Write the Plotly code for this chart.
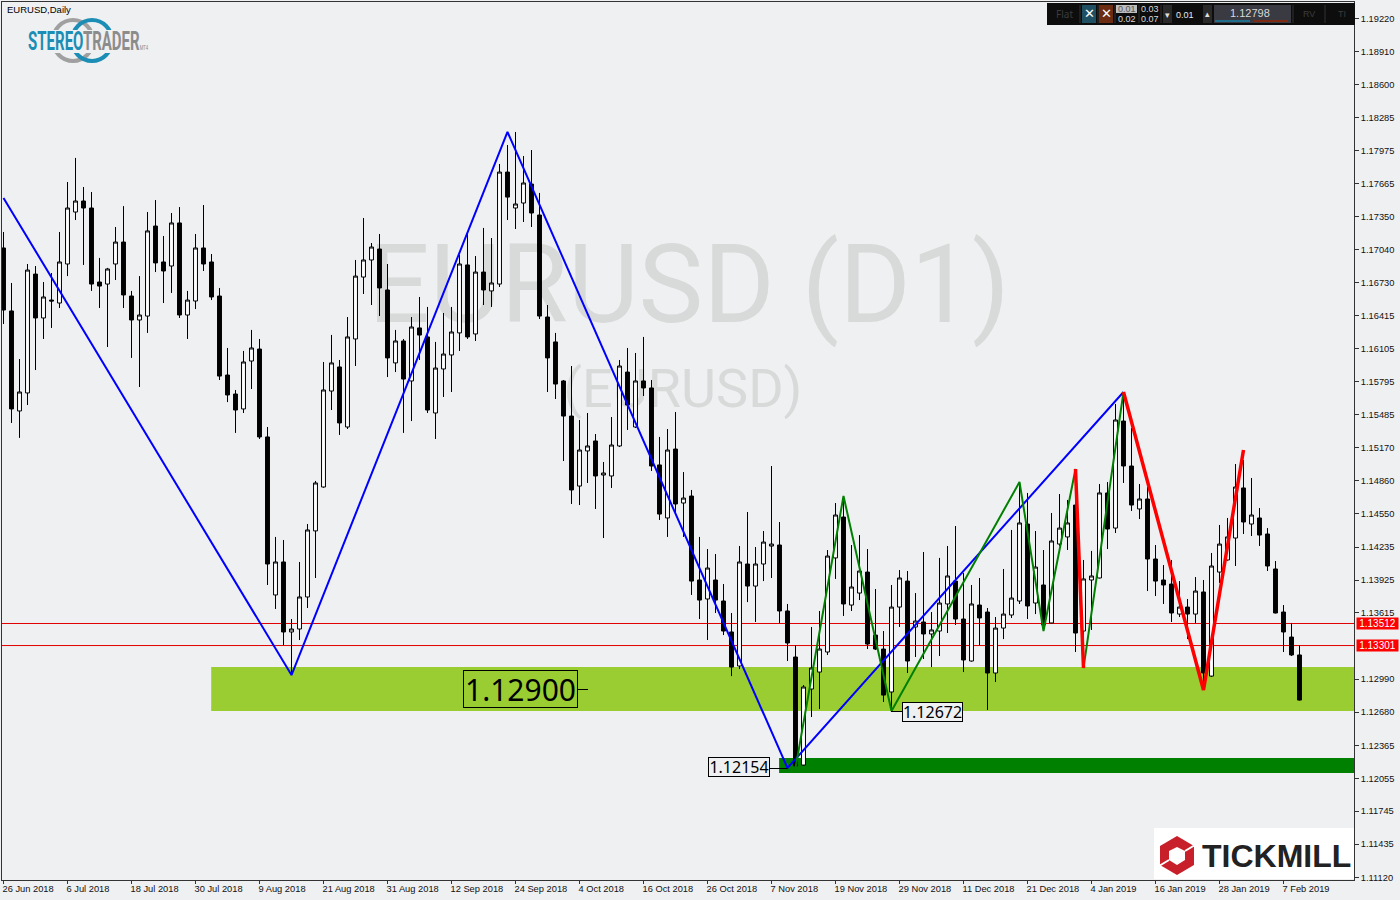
import plotly.graph_objects as go

# Prices are given in points (1 point = 0.00001)
POINT = 0.00001
open_pts = [
117056,116462,115519,115689,116810,116396,116565,116537,116905,117395,
117499,117433,116735,116716,116905,117112,116603,116377,116414,117263,
116924,116886,117292,116424,116556,117056,116924,116603,115858,115679,
115538,115990,116103,115274,113784,114095,113435,113463,113765,114388,
114802,115707,115934,115368,116198,116782,116943,117046,116660,115972,
116179,115802,116302,116217,115500,115915,116047,116255,116896,116245,
116829,116651,116716,117772,117433,117480,117659,117367,116405,116170,
115802,115471,114811,115142,115236,114915,114906,115189,115886,115368,
115802,115736,115010,114510,115160,114651,114717,113925,113746,113925,
113727,113435,113114,114076,113868,114076,114245,114255,113633,113199,
112180,112897,113057,113246,114133,114519,113689,113802,114000,113406,
113274,112869,113670,113915,113482,113529,113416,113444,113699,113915,
113557,113161,113689,113623,113048,113472,113595,113727,114453,113708,
113878,113520,114264,114331,114632,113444,113925,113944,114746,114415,
115424,115000,114595,114689,114123,113925,113887,113604,113670,113604,
113812,113019,114000,114114,114321,114793,114453,114510,114359,114029,
113623,113387,113218]
high_pts = [
117207,116726,116009,116905,116886,116735,116820,117207,117678,117905,
117631,117584,116962,116868,117254,117451,116651,116791,117395,117508,
117169,117386,117442,116651,117188,117461,116999,116679,116113,115717,
116085,116283,116198,115368,114331,114302,113557,114095,114453,114859,
115981,116236,116000,116405,116943,117339,117103,117188,116905,116283,
116198,116405,116594,116500,116170,116443,116500,116990,117197,116980,
117245,117150,117848,118027,118150,117923,117980,117575,116518,116255,
115811,115943,115434,115500,115302,115038,115462,116000,116113,116066,
116217,115811,115274,115349,115509,114943,114774,114331,114217,114170,
113887,113614,114246,114566,114236,114387,115000,114472,113699,113312,
112935,113482,113633,114208,114651,114717,114255,114349,114217,113840,
113444,113878,114019,114010,113802,114189,113623,114133,114246,114434,
113991,113878,113944,113661,113576,114029,114397,114849,114746,114387,
114208,114557,114736,114680,114962,114114,114199,114830,114849,115585,
115670,115358,114830,114802,114255,114066,114114,113915,113746,113953,
113925,114180,114444,114510,115019,115057,114887,114604,114415,114104,
113689,113520,113312]
low_pts = [
116339,115406,115265,115575,115905,116198,116302,116490,116791,117320,
116896,116651,116490,116122,116754,116490,116019,115745,116255,116829,
116537,116632,116396,116198,116480,116839,116565,115811,115603,115312,
115500,115726,115255,113878,113652,113312,113029,113359,113661,113944,
114795,115528,115293,115349,115943,116622,116518,116414,115839,115886,
115312,115424,116000,115500,115255,115651,115698,116085,116198,116179,
116518,116500,116688,117320,117235,117301,117254,116386,115698,115632,
115047,114642,114632,114840,114595,114321,114793,115179,115340,115358,
115660,114953,114491,114331,114557,114331,113784,113557,113359,113614,
113406,113019,113085,113717,113529,113915,113944,113520,113161,112152,
112171,112633,112708,113218,113935,113586,113633,113736,113274,113265,
112775,112690,113482,113048,113199,113180,113104,113208,113425,113501,
113057,113155,113312,112699,112963,113368,113567,113699,113557,113604,
113444,113515,114245,114208,113246,113095,113454,113940,114217,114368,
114840,114576,114500,113821,113774,113699,113529,113576,113368,113520,
112888,113010,113897,114108,114057,114359,114340,114246,114010,113610,
113246,113208,112788]
close_pts = [
116471,115538,115698,116848,116396,116594,116556,116924,117433,117499,
117433,116716,116697,116858,117112,116613,116377,116424,117217,116915,
116839,117292,116424,116565,117056,116905,116594,115848,115670,115528,
115981,116113,115274,114076,114095,113435,113463,113765,114397,114840,
115717,115972,115406,116217,116791,116943,117065,116679,116019,116179,
115820,116311,116235,115528,115924,116056,116264,116905,116217,116829,
116660,116726,117772,117536,117471,117669,117386,116414,116019,115773,
115471,114774,115151,115189,114906,114934,115198,115943,115575,115802,
115736,115000,114547,115151,114642,114698,113915,113736,114038,113736,
113444,113104,114095,113868,114076,114283,114264,113633,113331,112171,
112916,113095,113274,114151,114538,113699,113859,114010,113321,113274,
112840,113670,113944,113161,113538,113416,113454,113708,113963,113557,
113171,113699,113567,113048,113472,113604,113755,114463,113680,114047,
113501,114293,114415,114463,113425,113935,113963,114746,114406,115434,
115000,114632,114689,114123,113915,113878,113614,113670,113604,113821,
113048,114057,114264,114331,114802,114472,114538,114349,114057,113614,
113435,113218,112793]

date_labels = ["26 Jun 2018","6 Jul 2018","18 Jul 2018","30 Jul 2018","9 Aug 2018","21 Aug 2018",
               "31 Aug 2018","12 Sep 2018","24 Sep 2018","4 Oct 2018","16 Oct 2018","26 Oct 2018",
               "7 Nov 2018","19 Nov 2018","29 Nov 2018","11 Dec 2018","21 Dec 2018","4 Jan 2019",
               "16 Jan 2019","28 Jan 2019","7 Feb 2019"]
LABEL_EVERY = 8
price_ticks = [1.19220,1.18910,1.18600,1.18285,1.17975,1.17665,1.17350,1.17040,1.16730,1.16415,
               1.16105,1.15795,1.15485,1.15170,1.14860,1.14550,1.14235,1.13925,1.13615,
               1.12990,1.12680,1.12365,1.12055,1.11745,1.11435,1.11120]

blue_bars   = [0, 36, 63, 98, 140]
blue_prices = [1.17528, 1.13029, 1.18150, 1.12152, 1.15698]
green_bars   = [99, 105, 111, 127, 130, 134, 135, 140]
green_prices = [1.12152, 1.14717, 1.12690, 1.14849, 1.13444, 1.14972, 1.13095, 1.15698]
red_bars   = [134, 135, None, 140, 150, 155]
red_prices = [1.14972, 1.13095, None, 1.15698, 1.12888, 1.15151]

zone_light = (1.12690, 1.13104)
zone_dark  = (1.12105, 1.12246)
level_prices = [1.13515, 1.13307]
level_tags = ["1.13512", "1.13301"]

BG = "#EFF0F2"
FONT = "Noto Sans"
AXIS_FONT = 9.3
bars = list(range(len(open_pts)))
W, H = 1400, 900
L, R, T, B = 2, 1354, 2, 880
def px(x): return (x - L) / (R - L)
def py(y): return (B - y) / (B - T)
X_RANGE = [-0.1875, 168.8125]
Y_RANGE = [1.110961, 1.193756]

fig = go.Figure()
fig.add_trace(go.Candlestick(
    x=bars,
    open=[v * POINT for v in open_pts], high=[v * POINT for v in high_pts],
    low=[v * POINT for v in low_pts], close=[v * POINT for v in close_pts],
    increasing=dict(line=dict(color="#000000", width=1), fillcolor="#FFFFFF"),
    decreasing=dict(line=dict(color="#000000", width=1), fillcolor="#000000"),
    whiskerwidth=0, showlegend=False, hoverinfo="skip"))
fig.add_trace(go.Scatter(x=blue_bars, y=blue_prices, mode="lines", line=dict(color="#0000FF", width=2), showlegend=False))
fig.add_trace(go.Scatter(x=green_bars, y=green_prices, mode="lines", line=dict(color="#008000", width=2), showlegend=False))
fig.add_trace(go.Scatter(x=red_bars, y=red_prices, mode="lines", line=dict(color="#FF0000", width=3.5), showlegend=False, connectgaps=False))

shapes = []
def rect_px(x0, y0, x1, y1, fill, line=None, layer="above", lw=0):
    shapes.append(dict(type="rect", xref="paper", yref="paper", x0=px(x0), x1=px(x1), y0=py(y1), y1=py(y0),
                       fillcolor=fill, line=dict(color=line or fill, width=lw), layer=layer))
def line_px(x0, y0, x1, y1, color="#000000", lw=1):
    shapes.append(dict(type="line", xref="paper", yref="paper", x0=px(x0), x1=px(x1), y0=py(y0), y1=py(y1),
                       line=dict(color=color, width=lw), layer="above"))
def path_px(pts, fill, lw=0, line=None):
    d = "M " + " L ".join(f"{px(a):.5f},{py(b):.5f}" for a, b in pts) + " Z"
    shapes.append(dict(type="path", xref="paper", yref="paper", path=d, fillcolor=fill,
                       line=dict(color=line or fill, width=lw), layer="above"))

# watermark (below the candles, as shape labels)
for box, txt, size in [((372, 214, 1006, 339), "EURUSD (D1)", 109), ((560, 347, 806, 422), "(EURUSD)", 54)]:
    shapes.append(dict(type="rect", xref="paper", yref="paper", x0=px(box[0]), x1=px(box[2]), y0=py(box[3]), y1=py(box[1]),
                       line=dict(width=0), fillcolor="rgba(0,0,0,0)", layer="below",
                       label=dict(text=txt, textposition="middle center", padding=0,
                                  font=dict(family="Roboto", size=size, color="#D8D9D9"))))
# zones and level lines under the candles
shapes.append(dict(type="rect", xref="x", yref="y", x0=25.96, x1=X_RANGE[1], y0=zone_light[0], y1=zone_light[1],
                   fillcolor="#9ACD32", line=dict(width=0), layer="below"))
shapes.append(dict(type="rect", xref="x", yref="y", x0=96.95, x1=X_RANGE[1], y0=zone_dark[0], y1=zone_dark[1],
                   fillcolor="#008000", line=dict(width=0), layer="below"))
for v in level_prices:
    shapes.append(dict(type="line", xref="paper", yref="y", x0=0, x1=1, y0=v, y1=v,
                       line=dict(color="#E00000", width=1), layer="below"))

# connector stubs of the value labels
line_px(578, 689.5, 588, 689.5)
line_px(770, 768.5, 787, 768.5)
line_px(891, 711.5, 902, 711.5)

# toolbar
rect_px(1047, 3, 1355, 25, "#0D0D0D")
rect_px(1082, 5, 1096, 23, "#1E4F63")
rect_px(1099, 5, 1113, 23, "#6B2C12")
rect_px(1116, 5, 1137, 13, "#BDBDBD")
rect_px(1163, 5, 1172, 23, "#2A2A2A")
rect_px(1203, 5, 1212, 23, "#2A2A2A")
rect_px(1214, 5, 1291, 23, "#3A3A42")
rect_px(1215, 20, 1250, 22, "#1F6E8C")
rect_px(1254, 20, 1288, 22, "#7E2A12")
for sx in (1080, 1098, 1115, 1139, 1161, 1293, 1325):
    line_px(sx, 5, sx, 23, "#333333")

# tickmill logo
rect_px(1154, 828, 1354, 879, "#FFFFFF")
path_px([(1177, 836), (1194, 846), (1194, 865), (1177, 875), (1160, 865), (1160, 846)], "#C8202A")
path_px([(1177, 847), (1185, 851), (1185, 860), (1177, 865), (1169, 860), (1169, 851)], "#FFFFFF")
line_px(1185, 851, 1195, 845, "#FFFFFF", 2)
line_px(1169, 860, 1159, 866, "#FFFFFF", 2)

# stereotrader logo
for cx, col in [(73, "#A0A0A0"), (92, "#1C8DB5")]:
    shapes.append(dict(type="circle", xref="paper", yref="paper", x0=px(cx - 20), x1=px(cx + 20), y0=py(61), y1=py(20),
                       line=dict(color=col, width=4), fillcolor="rgba(0,0,0,0)", layer="above"))
rect_px(26, 30, 142, 53, BG)

ann = []
def text_px(x, y, txt, size, color="#000000", anchor="center", family=FONT, **kw):
    ann.append(dict(xref="paper", yref="paper", x=px(x), y=py(y), text=txt, showarrow=False, xanchor=anchor,
                    yanchor="middle", font=dict(family=family, size=size, color=color), **kw))

text_px(5, 10, "EURUSD,Daily", 9.5, family="Liberation Sans", anchor="left")
text_px(88, 42,
        '<b><span style="color:#1C8DB5">STEREO</span><span style="color:#8C8C8C">TRADER</span></b>'
        '<span style="color:#8C8C8C;font-size:7px">MT4</span>',
        25, "#8C8C8C", family="Roboto")
text_px(1276, 856, "<b>TICKMILL</b>", 32, "#222222", family="Liberation Sans")

text_px(1064, 14, "Flat", 10, "#3C3C3C")
text_px(1089, 14, "✕", 13, "#FFFFFF", family="DejaVu Sans")
text_px(1106, 14, "✕", 13, "#FFFFFF", family="DejaVu Sans")
text_px(1126.5, 9, "0.01", 9, "#555555", family="Liberation Sans")
text_px(1126.5, 19, "0.02", 9, "#D8D8D8", family="Liberation Sans")
text_px(1150, 9, "0.03", 9, "#D8D8D8", family="Liberation Sans")
text_px(1150, 19, "0.07", 9, "#D8D8D8", family="Liberation Sans")
text_px(1167.5, 15, "▾", 9, "#E0E0E0", family="DejaVu Sans")
text_px(1185, 15, "0.01", 9, "#E8E8E8", family="Liberation Sans")
text_px(1207.5, 14, "▴", 9, "#E0E0E0", family="DejaVu Sans")
text_px(1250, 13, "1.12798", 11, "#D8D8D8", family="Liberation Sans")
text_px(1309, 14, "RV", 9, "#3C3C3C", family="Liberation Sans")
text_px(1342, 14, "TI", 9, "#3C3C3C", family="Liberation Sans")

# value labels
text_px(520.5, 689, "1.12900", 30, bordercolor="#000000", borderwidth=1, borderpad=0, width=113, height=36, align="center")
text_px(739, 767.5, "1.12154", 16, bgcolor=BG, bordercolor="#000000", borderwidth=1, borderpad=0, width=60, height=18, align="center")
text_px(932.5, 711.5, "1.12672", 16, bgcolor=BG, bordercolor="#000000", borderwidth=1, borderpad=0, width=59, height=18, align="center")

# price tags
for v, t in zip(level_prices, level_tags):
    ann.append(dict(xref="paper", yref="y", x=px(1356), y=v, text=t, showarrow=False, xanchor="left", yanchor="middle",
                    bgcolor="#FF0000", borderpad=0, width=41, height=11, align="center",
                    font=dict(family="Liberation Sans", size=10, color="#FFFFFF")))

fig.update_layout(
    width=W, height=H, margin=dict(l=L, r=W - R, t=T, b=H - B, autoexpand=False),
    paper_bgcolor=BG, plot_bgcolor=BG, showlegend=False, hovermode=False,
    shapes=shapes, annotations=ann,
    font=dict(family="Liberation Sans", size=10, color="#111111"),
    xaxis=dict(range=X_RANGE, rangeslider=dict(visible=False), showgrid=False, zeroline=False,
               tickmode="array", tickvals=[k * LABEL_EVERY for k in range(len(date_labels))], ticktext=date_labels,
               ticks="outside", ticklen=3, tickcolor="#333333", ticklabelposition="outside right", ticklabelshift=-2,
               showline=True, linecolor="#333333", linewidth=1, mirror=True, tickangle=0,
               tickfont=dict(family="Liberation Sans", size=AXIS_FONT, color="#111111")),
    yaxis=dict(range=Y_RANGE, side="right", showgrid=False, zeroline=False, tickmode="array",
               tickvals=price_ticks, ticktext=[f"{v:.5f}" for v in price_ticks],
               ticks="outside", ticklen=4, tickcolor="#333333",
               showline=True, linecolor="#333333", linewidth=1, mirror=True,
               tickfont=dict(family="Liberation Sans", size=AXIS_FONT, color="#111111")),
)
POST = """
document.body.style.margin='0';document.body.style.overflow='hidden';
var fit={'STEREOTRADERMT4':120};
document.querySelectorAll('.annotation-text').forEach(function(t){
  var w=fit[t.textContent];
  if(w){
    t.setAttribute('textLength',w);t.setAttribute('lengthAdjust','spacingAndGlyphs');
    var r=t.parentNode.querySelector('rect.bg');
    if(r){var o=parseFloat(r.getAttribute('width'));var x=parseFloat(r.getAttribute('x')||0);
      r.setAttribute('x',x+(o-w)/2);r.setAttribute('width',w);}
  }
});
"""
fig.write_html("out.html", post_script=POST, config={"displayModeBar": False})
